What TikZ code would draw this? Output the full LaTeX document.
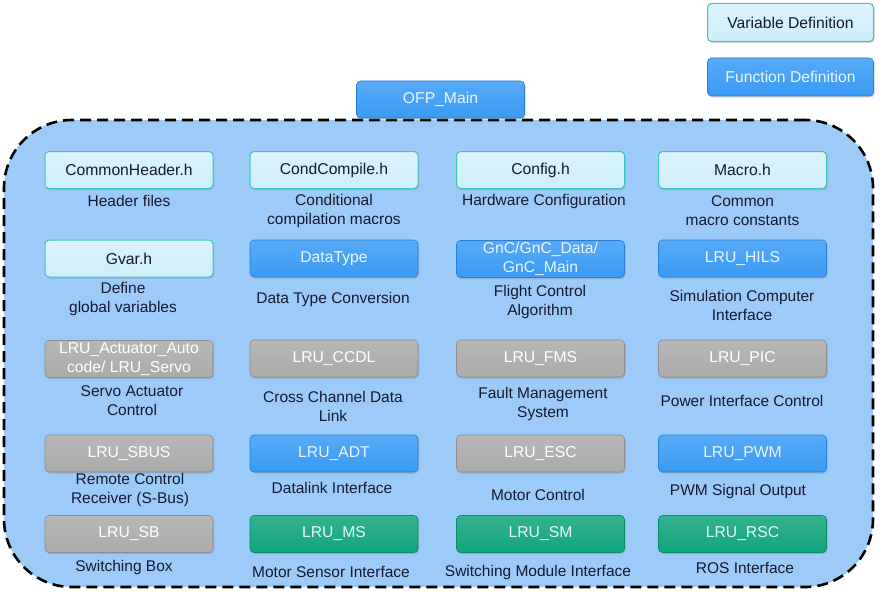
\documentclass[tikz,border=0pt]{standalone}
\usepackage{fontspec}
\setmainfont{Liberation Sans}
\usetikzlibrary{shadows}
\definecolor{contfill}{HTML}{9CCBFA}
\definecolor{varfill}{HTML}{CDEEFB}
\definecolor{varline}{HTML}{3CC7B8}
\definecolor{funfill}{HTML}{3A9BF5}
\definecolor{funline}{HTML}{2A7FD0}
\definecolor{grayfill}{HTML}{ABABAB}
\definecolor{grayline}{HTML}{8E8E8E}
\definecolor{grnfill}{HTML}{10A57C}
\definecolor{grnline}{HTML}{0B8A66}
\definecolor{labtext}{HTML}{141A2E}
\definecolor{boxtext}{HTML}{EAF4FF}
\tikzset{
  base/.style={rounded corners=4pt, minimum width=168pt, minimum height=37pt,
    inner sep=1pt, align=center, font=\fontsize{15.7}{19}\selectfont,
    drop shadow={shadow xshift=1pt, shadow yshift=-1.5pt, opacity=0.35}},
  varbox/.style={base, draw=varline, line width=1pt, top color=varfill!70!white, bottom color=varfill, text=labtext},
  funbox/.style={base, draw=funline, line width=0.6pt, top color=funfill!85!white, bottom color=funfill, text=boxtext},
  graybox/.style={base, draw=grayline, line width=0.6pt, top color=grayfill!85!white, bottom color=grayfill, text=white},
  grnbox/.style={base, draw=grnline, line width=0.6pt, top color=grnfill!85!white, bottom color=grnfill, text=boxtext},
  lab/.style={align=center, font=\fontsize{15.5}{19}\selectfont, text=labtext, inner sep=0pt}
}
\begin{document}
\begin{tikzpicture}[x=1pt,y=-1pt]
\useasboundingbox[fill=white] (0,0) rectangle (882,591);
\node[draw=black, line width=2.6pt, dash pattern=on 11pt off 6pt, fill=contfill,
      rounded corners=68pt, minimum width=869pt, minimum height=467pt, inner sep=0pt]
      (cont) at (438.5,353.5) {};
% legend
\node[varbox, minimum width=166pt, minimum height=38pt] (legv) at (790.5,22.5) {Variable Definition};
\node[funbox, minimum width=166pt, minimum height=38pt] (legf) at (790.5,77) {Function Definition};
\node[funbox, minimum width=168pt, minimum height=37pt] (main) at (440.5,99.5) {OFP\_Main};
% row 1
\node[varbox] (ch) at (129,170) {CommonHeader.h};
\node[varbox] (cc) at (334,170) {CondCompile.h};
\node[varbox] (cf) at (540.5,170) {Config.h};
\node[varbox] (mc) at (742.5,170) {Macro.h};
\node[lab] (chl) at (129,201) {Header files};
\node[lab] (ccl) at (334,210.5) {Conditional\\compilation macros};
\node[lab] (cfl) at (544,201) {Hardware Configuration};
\node[lab] (mcl) at (742.5,210.5) {Common\\macro constants};
% row 2
\node[varbox] (gv) at (129,258.5) {Gvar.h};
\node[funbox] (dt) at (334,258.5) {DataType};
\node[funbox] (gnc) at (540.5,259) {GnC/GnC\_Data/\\GnC\_Main};
\node[funbox] (hils) at (742.5,258.5) {LRU\_HILS};
\node[lab] (gvl) at (123,298.5) {Define\\global variables};
\node[lab] (dtl) at (333,299) {Data Type Conversion};
\node[lab] (gncl) at (540,301.5) {Flight Control\\Algorithm};
\node[lab] (hilsl) at (742,305.5) {Simulation Computer\\Interface};
% row 3
\node[graybox] (act) at (129,359) {LRU\_Actuator\_Auto\\code/ LRU\_Servo};
\node[graybox] (ccdl) at (334,358.5) {LRU\_CCDL};
\node[graybox] (fms) at (540.5,358.5) {LRU\_FMS};
\node[graybox] (pic) at (742.5,358.5) {LRU\_PIC};
\node[lab] (actl) at (132,400.5) {Servo Actuator\\Control};
\node[lab] (ccdll) at (333,406.5) {Cross Channel Data\\Link};
\node[lab] (fmsl) at (543,403.5) {Fault Management\\System};
\node[lab] (picl) at (742,401) {Power Interface Control};
% row 4
\node[graybox] (sbus) at (129,453.5) {LRU\_SBUS};
\node[funbox] (adt) at (334,453.5) {LRU\_ADT};
\node[graybox] (esc) at (540.5,453.5) {LRU\_ESC};
\node[funbox] (pwm) at (742.5,453.5) {LRU\_PWM};
\node[lab] (sbusl) at (130,490) {Remote Control\\Receiver (S-Bus)};
\node[lab] (adtl) at (332,488) {Datalink Interface};
\node[lab] (escl) at (538,495) {Motor Control};
\node[lab] (pwml) at (738,491) {PWM Signal Output};
% row 5
\node[graybox] (sb) at (129,534) {LRU\_SB};
\node[grnbox] (ms) at (334,534) {LRU\_MS};
\node[grnbox] (sm) at (540.5,534) {LRU\_SM};
\node[grnbox] (rsc) at (742.5,534) {LRU\_RSC};
\node[lab] (sbl) at (124,567) {Switching Box};
\node[lab] (msl) at (331,572) {Motor Sensor Interface};
\node[lab] (sml) at (538,572) {Switching Module Interface};
\node[lab] (rscl) at (745,568) {ROS Interface};
\end{tikzpicture}
\end{document}
